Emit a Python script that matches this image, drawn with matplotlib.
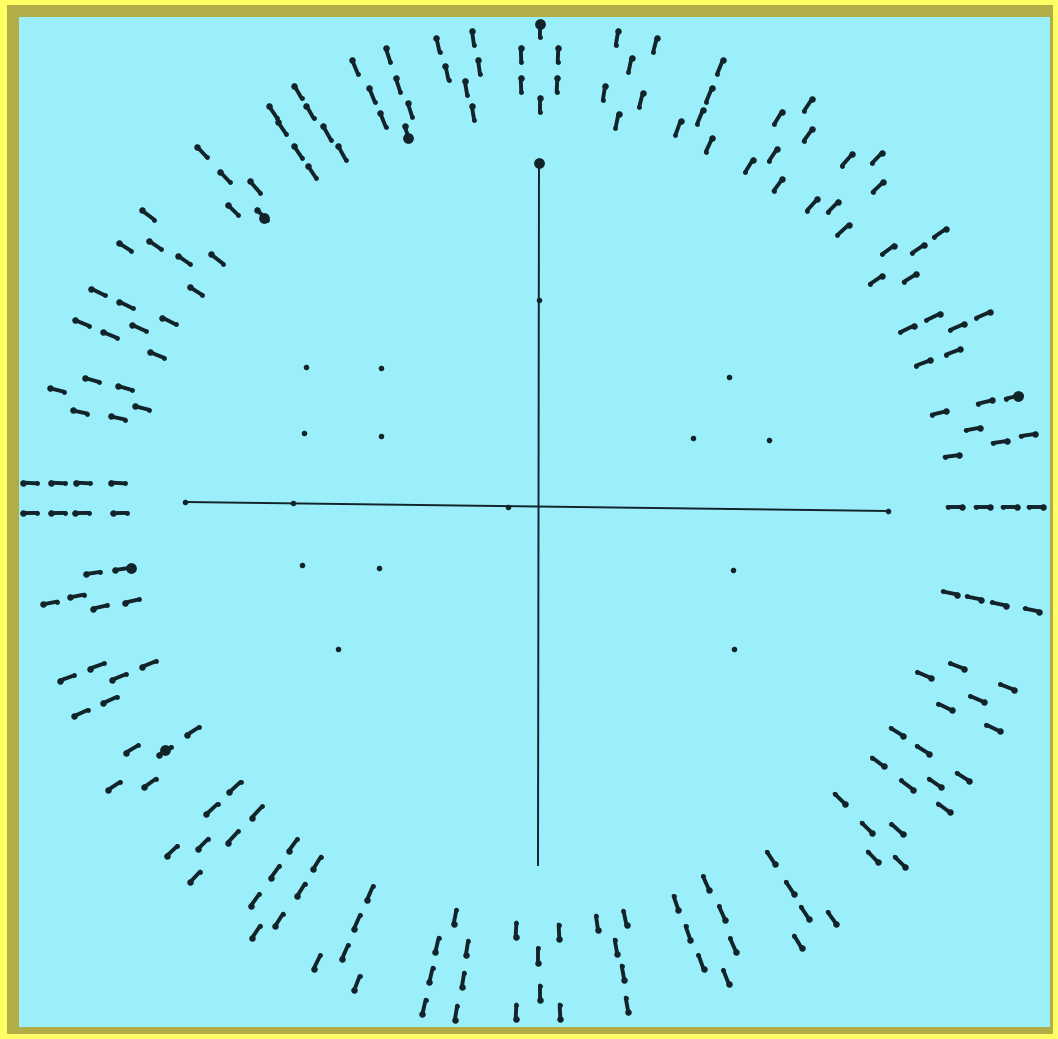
import numpy as np
import matplotlib
matplotlib.use("Agg")
import matplotlib.pyplot as plt
from matplotlib.collections import LineCollection

W, H = 1058, 1039
BG = "#9aeffb"
OLIVE = "#b3ad48"
YELLOW = "#ffff66"
INK = "#12232a"

# centre of the radial pattern and arm ends of the cross (image units)
center = (538, 508)
h_axis_x = [185, 888]
h_axis_y = [502, 511]
v_axis_x = [539, 538]
v_axis_y = [162, 865]
axis_bulb_x = [293, 508, 539, 185, 888]
axis_bulb_y = [503, 507, 300, 502, 511]

# radial dash marks: centre of each dash
mark_x = [
    298, 310, 273, 282, 327, 342, 298, 312,
    202, 225, 255, 233, 262,
    148, 125, 155, 184, 217, 196,
    98, 126, 82, 110, 139, 169, 157,
    92, 57, 125, 80, 118, 142,
    355, 372, 383, 388, 398, 410, 407,
    438, 447, 466, 473, 473, 479,
    540, 521, 558, 521, 557, 540,
    617, 655, 630, 604, 641, 617, 678,
    720, 709, 700, 709,
    808, 778, 808, 773, 749, 778,
    847, 877, 878, 812, 833, 843,
    940, 888, 918, 876, 910,
    983, 933, 907, 957, 953, 923,
    1013, 985, 939, 973, 1028, 1000, 952,
    955, 983, 1010, 1036,
    950, 974, 999, 1032,
    924, 957, 945, 977, 1007, 993,
    897, 923, 878, 907, 935, 963, 944,
    840, 867, 897, 873, 900,
    771, 790, 805, 832, 798,
    706, 676, 722, 688, 733, 701, 726,
    597, 625, 616, 623, 627,
    516, 559, 538, 540, 516, 560,
    455, 437, 467, 431, 463, 424, 456,
    370, 357, 345, 317, 357,
    293, 317, 275, 301, 255, 279, 256,
    235, 212, 257, 233, 203, 172, 195,
    193, 165, 132, 150, 114,
    67, 97, 119, 149, 110, 81,
    93, 122, 50, 77, 100, 132,
    30, 58, 83, 118, 30, 58, 82, 120,
]
mark_y = [
    92, 112, 112, 128, 133, 153, 152, 172,
    152, 177, 187, 210, 215,
    215, 247, 245, 260, 259, 291,
    292, 305, 323, 335, 328, 321, 355,
    380, 390, 388, 412, 418, 408,
    67, 95, 120, 55, 85, 110, 133,
    45, 73, 88, 113, 38, 67,
    30, 55, 55, 85, 85, 105,
    38, 45, 65, 93, 100, 121, 128,
    67, 95, 117, 145,
    105, 118, 135, 155, 166, 185,
    160, 158, 187, 205, 207, 230,
    233, 250, 249, 280, 278,
    315, 317, 329, 327, 352, 363,
    397, 402, 413, 429, 435, 442, 456,
    507, 507, 507, 507,
    593, 598, 604, 610,
    675, 666, 707, 699, 687, 728,
    732, 750, 762, 785, 783, 777, 808,
    799, 828, 829, 857, 862,
    858, 888, 913, 918, 942,
    883, 903, 913, 933, 945, 962, 977,
    923, 918, 947, 973, 1005,
    930, 932, 955, 993, 1012, 1012,
    917, 945, 948, 975, 980, 1007, 1013,
    893, 922, 952, 962, 983,
    845, 863, 872, 890, 900, 920, 932,
    787, 809, 812, 837, 844, 851, 877,
    731, 751, 749, 783, 786,
    678, 666, 677, 664, 700, 713,
    573, 569, 603, 596, 607, 601,
    483, 483, 483, 483, 513, 513, 513, 513,
]

# heavier blobs on some dashes
blob_x = [131, 264, 408, 540, 539, 165, 1018]
blob_y = [568, 218, 138, 24, 163, 750, 396]

# isolated interior dots
dot_x = [306, 381, 304, 381, 729, 693, 769, 302, 379, 338, 733, 734]
dot_y = [367, 368, 433, 436, 377, 438, 440, 565, 568, 649, 570, 649]

fig = plt.figure(figsize=(W / 100, H / 100), dpi=100, facecolor=YELLOW)
# olive frame, drawn underneath everything
frame = fig.add_axes([7 / W, 1 - 1034 / H, (1053 - 7) / W, (1034 - 5) / H])
frame.set_facecolor(OLIVE)
frame.set_xticks([])
frame.set_yticks([])
for s in frame.spines.values():
    s.set_visible(False)
frame.set_zorder(0)

ax = fig.add_axes([19 / W, 1 - 1027 / H, (1050 - 19) / W, (1027 - 17) / H])
ax.set_zorder(1)
ax.set_facecolor(BG)
ax.set_xlim(19, 1050)
ax.set_ylim(1027, 17)
ax.set_xticks([])
ax.set_yticks([])
for s in ax.spines.values():
    s.set_visible(False)

# cross
ax.plot(h_axis_x, h_axis_y, color=INK, lw=1.4, zorder=2)
ax.plot(v_axis_x, v_axis_y, color=INK, lw=1.4, zorder=2)
ax.scatter(axis_bulb_x, axis_bulb_y, s=16, color=INK, zorder=3, linewidths=0)

# radial dashes
mx = np.array(mark_x, float)
my = np.array(mark_y, float)
dx = mx - center[0]
dy = my - center[1]
r = np.hypot(dx, dy)
ux, uy = dx / r, dy / r
half = 7.5
segs = np.stack([np.column_stack([mx - half * ux, my - half * uy]),
                 np.column_stack([mx + half * ux, my + half * uy])], axis=1)
ax.add_collection(LineCollection(segs, colors=INK, linewidths=2.8, capstyle="round", zorder=3))
ax.scatter(mx + half * ux, my + half * uy, s=22, color=INK, zorder=4, linewidths=0)
ax.scatter(mx - half * ux, my - half * uy, s=12, color=INK, zorder=4, linewidths=0)

ax.scatter(blob_x, blob_y, s=60, color=INK, zorder=5, linewidths=0)
ax.scatter(dot_x, dot_y, s=16, color=INK, zorder=3, linewidths=0)

fig.savefig("out.png", dpi=100, facecolor=YELLOW)
